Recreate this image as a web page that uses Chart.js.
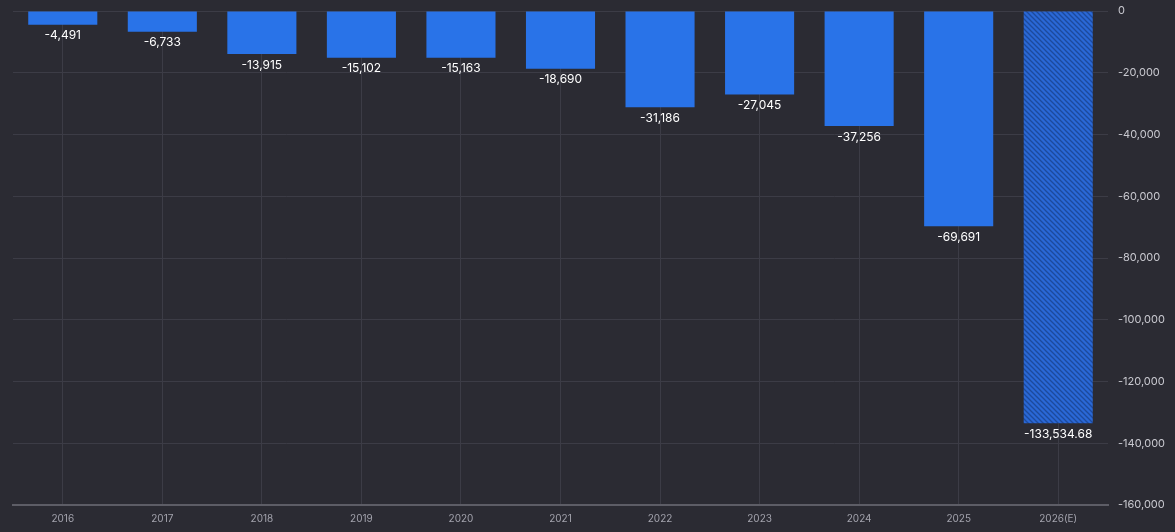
<!DOCTYPE html>
<html>
<head>
<meta charset="utf-8">
<script src="https://cdn.jsdelivr.net/npm/chart.js@4"></script>
<style>
  html, body { margin: 0; padding: 0; background: #2b2b33; }
  #wrap { width: 1175px; height: 532px; position: relative; }
</style>
</head>
<body>
<div id="wrap"><canvas id="chart"></canvas></div>
<script>
const years = ['2016', '2017', '2018', '2019', '2020', '2021', '2022', '2023', '2024', '2025', '2026(E)'];
const values = [-4491, -6733, -13915, -15102, -15163, -18690, -31186, -27045, -37256, -69691, -133534.68];
const estimated = [false, false, false, false, false, false, false, false, false, false, true];
const yTicks = [0, -20000, -40000, -60000, -80000, -100000, -120000, -140000, -160000];

const BLUE = '#2973e8';

// diagonal stripes for the estimate bar
function hatch() {
  const c = document.createElement('canvas');
  c.width = 5; c.height = 5;
  const g = c.getContext('2d');
  g.fillStyle = '#2a68d6';
  g.fillRect(0, 0, 5, 5);
  g.strokeStyle = '#1d4a9c';
  g.lineWidth = 1.3;
  g.beginPath();
  g.moveTo(-1, -1); g.lineTo(6, 6);
  g.moveTo(-6, -1); g.lineTo(1, 6);
  g.moveTo(4, -1); g.lineTo(11, 6);
  g.stroke();
  return g.createPattern(c, 'repeat');
}
const stripes = hatch();

const fmt = (v) => v.toLocaleString('en-US', { maximumFractionDigits: 2 });

const barLabels = {
  id: 'barLabels',
  afterDatasetsDraw(chart) {
    const { ctx } = chart;
    const meta = chart.getDatasetMeta(0);
    ctx.save();
    ctx.font = '12px Inter, "Noto Sans", sans-serif';
    ctx.fillStyle = '#ffffff';
    ctx.textAlign = 'center';
    ctx.textBaseline = 'middle';
    meta.data.forEach((bar, i) => {
      ctx.fillText(fmt(values[i]), bar.x, bar.y + 11);
    });
    ctx.restore();
  }
};

new Chart(document.getElementById('chart'), {
  type: 'bar',
  data: {
    labels: years,
    datasets: [{
      data: values,
      backgroundColor: estimated.map((e) => (e ? stripes : BLUE)),
      borderWidth: 0,
      barPercentage: 0.694,
      categoryPercentage: 1,
    }],
  },
  options: {
    responsive: true,
    maintainAspectRatio: false,
    animation: false,
    layout: { padding: { left: 13, top: 11, right: 0, bottom: 0 } },
    plugins: {
      legend: { display: false },
      tooltip: { enabled: false },
    },
    scales: {
      x: {
        grid: { offset: false, color: '#3c3c46', lineWidth: 1, drawTicks: false },
        border: { color: '#5d5d66', width: 2 },
        ticks: {
          color: '#a3a3ad',
          font: { size: 10, family: 'Inter, "Noto Sans", sans-serif' },
          padding: 8,
          maxRotation: 0,
        },
        afterFit: (s) => { s.height = 27; },
      },
      y: {
        position: 'right',
        min: -160000,
        max: 0,
        afterBuildTicks: (s) => { s.ticks = yTicks.map((v) => ({ value: v })); },
        grid: { color: '#3c3c46', lineWidth: 1, drawTicks: false },
        border: { display: false },
        ticks: {
          color: '#c9c9d0',
          font: { size: 11, family: 'Inter, "Noto Sans", sans-serif' },
          padding: 10,
          callback: (v) => fmt(v),
        },
        afterFit: (s) => { s.width = 67; s.paddingTop = 0; s.paddingBottom = 0; },
      },
    },
  },
  plugins: [barLabels],
});
</script>
</body>
</html>
